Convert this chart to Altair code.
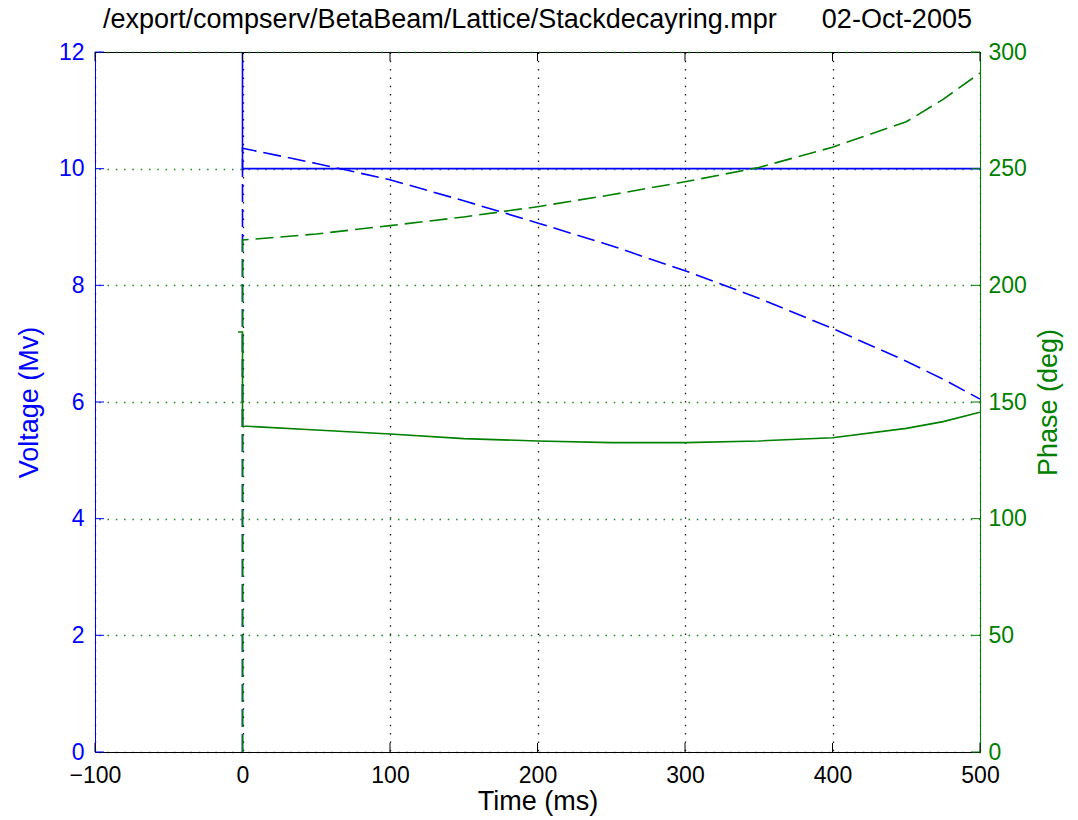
import altair as alt
import pandas as pd

# ---------------- data ----------------
# Voltage (left axis, MV)
volt_solid_t = [0, 0, 500]
volt_solid_v = [12, 10, 10]
volt_dash_t = [0, 0, 50, 100, 150, 200, 250, 300, 350, 400, 450, 475, 500]
volt_dash_v = [0, 10.35, 10.09, 9.81, 9.45, 9.07, 8.68, 8.25, 7.78, 7.26, 6.70, 6.39, 6.05]

# Phase (right axis, deg)
phase_solid_t = [-3, 0, 0, 50, 100, 150, 200, 250, 300, 350, 400, 450, 475, 500]
phase_solid_v = [180, 180, 139.7, 138.0, 136.3, 134.3, 133.3, 132.6, 132.6, 133.3, 134.7, 138.7, 141.6, 145.6]
phase_dash_t = [0, 0, 50, 100, 150, 200, 250, 300, 350, 400, 450, 475, 500]
phase_dash_v = [0, 219.4, 222.0, 225.6, 229.3, 233.7, 238.8, 244.4, 250.5, 259.2, 270.1, 279.7, 291.0]

x_ticks = [-100, 0, 100, 200, 300, 400, 500]
volt_ticks = [0, 2, 4, 6, 8, 10, 12]
phase_ticks = [0, 50, 100, 150, 200, 250, 300]

title_text = "/export/compserv/BetaBeam/Lattice/Stackdecayring.mpr" + "\u00a0" * 6 + "02-Oct-2005"

# ---------------- styling ----------------
FONT = "Liberation Sans"
FS = 23      # tick labels
FT = 27      # titles
BLUE = "#0000ff"
GREEN = "#008000"
W, H = 885, 700
TICK = 9
DASH = [18, 7]

x_enc = alt.X(
    "t:Q",
    scale=alt.Scale(domain=[-100, 500], nice=False, zero=False),
    axis=alt.Axis(
        values=x_ticks, title="Time (ms)", ticks=False, labelFont=FONT, labelFontSize=FS,
        titleFont=FONT, titleFontSize=FT, titleFontWeight="normal", labelColor="black",
        titleColor="black", domainColor="black", labelPadding=12, titlePadding=1,
        grid=True, gridColor="black", gridDash=[1.5, 6.8], gridWidth=1.3, gridOpacity=0.9,
        labelFlush=False,
    ),
)

axis_volt = alt.Axis(
    values=volt_ticks, title="Voltage (Mv)", ticks=False, orient="left", labelFont=FONT,
    labelFontSize=FS, titleFont=FONT, titleFontSize=FT, titleFontWeight="normal",
    labelColor=BLUE, titleColor=BLUE, domainColor=BLUE, labelPadding=11, titlePadding=15,
    grid=False, labelFlush=False,
)
axis_phase = alt.Axis(
    values=phase_ticks, title="Phase (deg)", ticks=False, orient="right", labelFont=FONT,
    labelFontSize=FS, titleFont=FONT, titleFontSize=FT, titleFontWeight="normal",
    labelColor=GREEN, titleColor=GREEN, domainColor=GREEN, labelPadding=8, titlePadding=36,
    titleAngle=270, grid=True, gridColor=GREEN, gridDash=[1.5, 6.8], gridWidth=1.3,
    gridOpacity=0.9, labelFlush=False,
)

y_volt = lambda: alt.Y("v:Q", scale=alt.Scale(domain=[0, 12], nice=False), axis=axis_volt)
y_phase = lambda: alt.Y("v:Q", scale=alt.Scale(domain=[0, 300], nice=False), axis=axis_phase)


def line(t, v, color, yfun, dash=None):
    df = pd.DataFrame({"t": t, "v": v, "i": list(range(len(t)))})
    kw = dict(color=color, strokeWidth=1.6, clip=True)
    if dash:
        kw["strokeDash"] = dash
    return alt.Chart(df).mark_line(**kw).encode(x=x_enc, y=yfun(), order="i:Q")


xt_df = pd.DataFrame({"t": x_ticks})
x_ticks_bottom = alt.Chart(xt_df).mark_rule(color="black", strokeWidth=1).encode(
    x=x_enc, y=alt.value(H), y2=alt.value(H - TICK))
x_ticks_top = alt.Chart(xt_df).mark_rule(color="black", strokeWidth=1).encode(
    x=x_enc, y=alt.value(0), y2=alt.value(TICK))

vt_df = pd.DataFrame({"v": volt_ticks})
volt_tick_rules = alt.Chart(vt_df).mark_rule(color=BLUE, strokeWidth=1).encode(
    y=y_volt(), x=alt.value(0), x2=alt.value(TICK))

pt_df = pd.DataFrame({"v": phase_ticks})
phase_tick_rules = alt.Chart(pt_df).mark_rule(color=GREEN, strokeWidth=1).encode(
    y=y_phase(), x=alt.value(W), x2=alt.value(W - TICK))

blue_group = alt.layer(
    line(volt_solid_t, volt_solid_v, BLUE, y_volt),
    line(volt_dash_t, volt_dash_v, BLUE, y_volt, DASH),
    volt_tick_rules,
    x_ticks_bottom,
    x_ticks_top,
)
green_group = alt.layer(
    line(phase_solid_t, phase_solid_v, GREEN, y_phase),
    line(phase_dash_t, phase_dash_v, GREEN, y_phase, DASH),
    phase_tick_rules,
)

chart = (
    alt.layer(blue_group, green_group)
    .resolve_scale(y="independent")
    .properties(
        width=W,
        height=H,
        title=alt.TitleParams(
            title_text, font=FONT, fontSize=FT, fontWeight="normal", color="black",
            anchor="middle", offset=7,
        ),
        autosize=alt.AutoSizeParams(type="none"),
        padding={"left": 95, "top": 52, "right": 98, "bottom": 68},
        background="white",
    )
    .configure_view(stroke="black", strokeWidth=1)
)

chart.save("out.html", embed_options={"renderer": "svg", "actions": False})
